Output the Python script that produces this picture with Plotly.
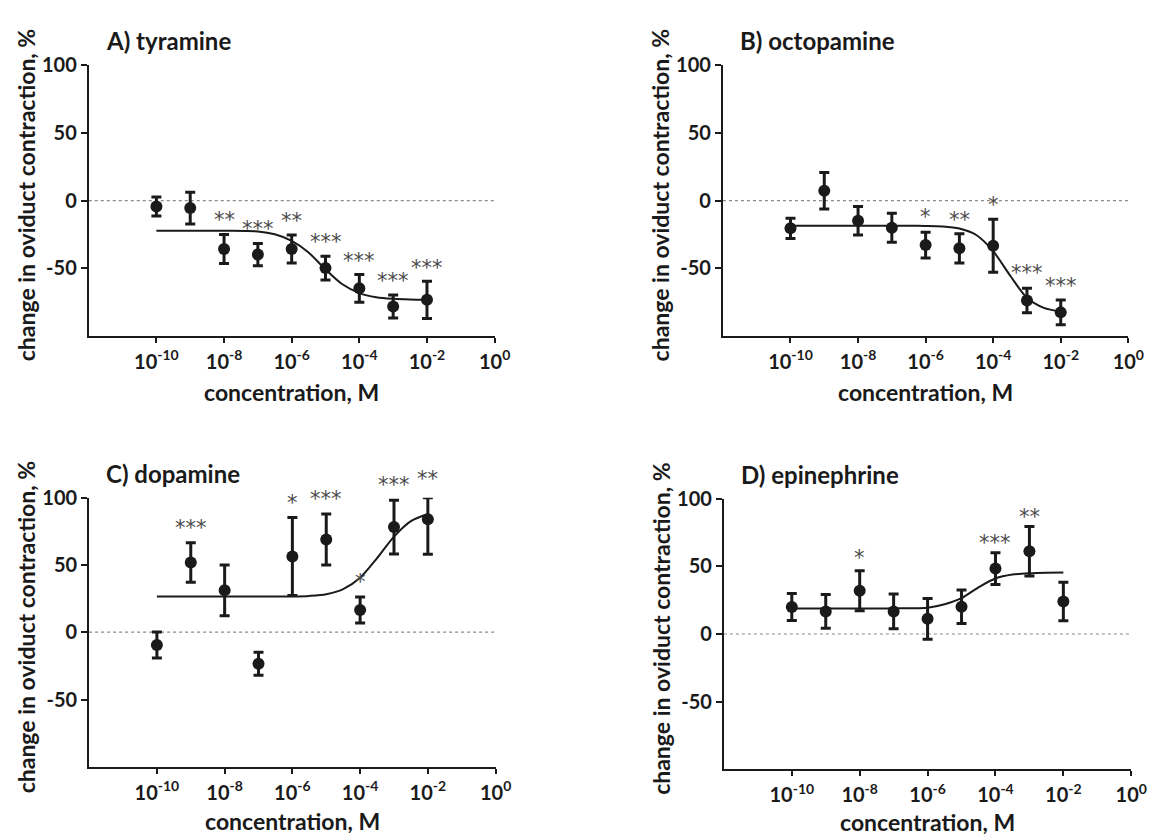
import plotly.graph_objects as go

# ---------------- data ----------------
conc_exp = [-10, -9, -8, -7, -6, -5, -4, -3, -2]          # log10 concentration, M
fit_exp = [-10, -9, -8, -7, -6.5, -6, -5.5, -5, -4.5, -4, -3.5, -3, -2.5, -2]

titles = ["A) tyramine", "B) octopamine", "C) dopamine", "D) epinephrine"]

tyr_mean = [-4.4, -5.6, -35.9, -40.0, -35.9, -50.0, -65.0, -78.4, -73.5]
tyr_err = [7.0, 11.7, 10.7, 8.2, 10.3, 8.8, 10.3, 8.5, 13.8]
tyr_fit = [-22.3, -22.3, -22.4, -22.9, -25.0, -29.9, -38.5, -51.0, -62.0, -68.5, -71.6, -72.8, -73.3, -73.5]
tyr_sig = ["", "", "**", "***", "**", "***", "***", "***", "***"]
tyr_sig_y = [None, None, -11.7, -18.4, -12.0, -27.4, -42.0, -56.6, -46.8]

oct_mean = [-20.6, 7.3, -15.0, -20.1, -33.0, -35.4, -33.5, -74.0, -82.8]
oct_err = [7.5, 13.5, 10.5, 10.7, 9.6, 10.8, 19.6, 9.0, 9.2]
oct_fit = [-18.7, -18.7, -18.7, -18.7, -18.7, -18.8, -19.2, -20.7, -25.5, -37.5, -55.5, -72.0, -79.5, -82.3]
oct_sig = ["", "", "", "", "*", "**", "*", "***", "***"]
oct_sig_y = [None, None, None, None, -9.4, -11.4, -0.4, -51.0, -60.2]

dop_mean = [-9.5, 51.8, 31.1, -23.4, 56.2, 68.9, 16.5, 78.1, 83.9]
dop_err_up = [9.6, 14.6, 18.8, 8.5, 29.0, 19.0, 9.7, 20.0, 16.1]
dop_err_down = [9.6, 14.6, 18.8, 8.5, 29.0, 19.0, 9.7, 20.0, 26.0]
dop_fit = [26.5, 26.5, 26.5, 26.5, 26.5, 26.6, 27.0, 28.2, 32.0, 40.5, 55.0, 71.0, 82.5, 87.8]
dop_sig = ["", "***", "", "", "*", "***", "*", "***", "**"]
dop_sig_y = [None, 80.3, None, None, 99.0, 101.7, 40.6, 112.7, 116.8]

epi_mean = [19.9, 16.7, 32.0, 16.7, 11.2, 20.1, 48.3, 61.2, 24.0]
epi_err = [10.0, 12.5, 14.8, 12.9, 15.0, 12.4, 11.8, 18.3, 14.2]
epi_fit = [18.8, 18.8, 18.8, 18.9, 19.0, 19.4, 22.0, 26.5, 34.5, 41.0, 43.9, 44.9, 45.3, 45.4]
epi_sig = ["", "", "*", "", "", "", "***", "**", ""]
epi_sig_y = [None, None, 59.2, None, None, None, 70.4, 89.1, None]

x_tick_exp = [-10, -8, -6, -4, -2, 0]
y_ticks = [-50, 0, 50, 100]
X_RANGE = [-12, 0]
Y_RANGE = [-100, 100]

# ---------------- layout geometry ----------------
W, H = 1165, 836
# plot areas in pixels: (left, right, top, bottom)
areas = [(90, 501.5, 53.3, 327.7),
         (733, 1144, 53.3, 327.7),
         (90.4, 502.5, 492.3, 765.7),
         (734, 1147, 493.3, 768.3)]
xtitle_gap = [57, 57, 55, 53]

INK = "#1a1a1a"
FONT = "Lato"

panels = [
    (tyr_mean, dict(type="data", array=tyr_err), tyr_fit, tyr_sig, tyr_sig_y),
    (oct_mean, dict(type="data", array=oct_err), oct_fit, oct_sig, oct_sig_y),
    (dop_mean, dict(type="data", symmetric=False, array=dop_err_up, arrayminus=dop_err_down), dop_fit, dop_sig, dop_sig_y),
    (epi_mean, dict(type="data", array=epi_err), epi_fit, epi_sig, epi_sig_y),
]

fig = go.Figure()
annotations = []
shapes = []
layout_axes = {}

for i, (mean, err, fit, sig, sig_y) in enumerate(panels):
    n = i + 1
    xa = "x" if n == 1 else f"x{n}"
    ya = "y" if n == 1 else f"y{n}"
    xkey = "xaxis" if n == 1 else f"xaxis{n}"
    ykey = "yaxis" if n == 1 else f"yaxis{n}"
    L, R, T, B = areas[i]

    # fitted curve
    fig.add_trace(go.Scatter(
        x=[10.0 ** e for e in fit_exp], y=fit, mode="lines",
        line=dict(color=INK, width=2, shape="spline", smoothing=0.8),
        xaxis=xa, yaxis=ya, showlegend=False, hoverinfo="skip"))
    # mean +/- SEM
    err = dict(err)
    err.update(color=INK, thickness=3, width=5)
    fig.add_trace(go.Scatter(
        x=[10.0 ** e for e in conc_exp], y=mean, mode="markers",
        marker=dict(color=INK, size=12),
        error_y=err, xaxis=xa, yaxis=ya, showlegend=False))

    layout_axes[xkey] = dict(
        type="log", range=X_RANGE, domain=[L / W, R / W], anchor=ya,
        showline=True, linecolor=INK, linewidth=2, mirror=False,
        ticks="outside", ticklen=5, tickwidth=2, tickcolor=INK,
        tickvals=[10.0 ** e for e in x_tick_exp],
        ticktext=[f"10<sup>{e}</sup>" for e in x_tick_exp],
        tickfont=dict(family=FONT, size=20, color=INK, weight="bold"),
        ticklabelstandoff=2,
        showgrid=False, zeroline=False)
    layout_axes[ykey] = dict(
        range=Y_RANGE, domain=[1 - B / H, 1 - T / H], anchor=xa,
        showline=True, linecolor=INK, linewidth=2,
        ticks="outside", ticklen=6, tickwidth=2, tickcolor=INK,
        tickvals=y_ticks, ticktext=[str(v) for v in y_ticks],
        tickfont=dict(family=FONT, size=20, color=INK, weight="bold"),
        showgrid=False, zeroline=False)

    # dotted zero line
    shapes.append(dict(type="line", xref=f"{xa} domain", yref=ya,
                       x0=0, x1=1, y0=0, y1=0,
                       line=dict(color="#8a8a8a", width=1.2, dash="dot"), layer="below"))

    # significance stars (placed in axis-domain fractions so they may sit above the axis top)
    for e, s, sy in zip(conc_exp, sig, sig_y):
        if s:
            annotations.append(dict(
                x=(e - X_RANGE[0]) / (X_RANGE[1] - X_RANGE[0]),
                y=(sy - Y_RANGE[0]) / (Y_RANGE[1] - Y_RANGE[0]),
                xref=f"{xa} domain", yref=f"{ya} domain", text=s, showarrow=False,
                xanchor="center", yanchor="middle", yshift=-4,
                font=dict(family="DejaVu Sans", size=21, color="#4a4a4a")))

    # panel title
    annotations.append(dict(
        x=(L + 15) / W, y=1 - (T - 25) / H, xref="paper", yref="paper",
        text=titles[i], showarrow=False, xanchor="left", yanchor="middle",
        font=dict(family=FONT, size=24, color=INK, weight="bold")))
    # y-axis title
    annotations.append(dict(
        x=(L - 64) / W, y=1 - ((T + B) / 2 - 5) / H, xref="paper", yref="paper",
        text="change in oviduct contraction, %", textangle=-90, showarrow=False,
        xanchor="center", yanchor="middle",
        font=dict(family=FONT, size=23, color=INK, weight="bold")))
    # x-axis title
    annotations.append(dict(
        x=(L + R) / 2 / W, y=1 - (B + xtitle_gap[i]) / H, xref="paper", yref="paper",
        text="concentration, M", showarrow=False,
        xanchor="center", yanchor="middle",
        font=dict(family=FONT, size=23, color=INK, weight="bold")))

fig.update_layout(
    width=W, height=H,
    margin=dict(l=0, r=0, t=0, b=0),
    paper_bgcolor="white", plot_bgcolor="white",
    annotations=annotations, shapes=shapes,
    **layout_axes)

fig.write_html("out.html")
